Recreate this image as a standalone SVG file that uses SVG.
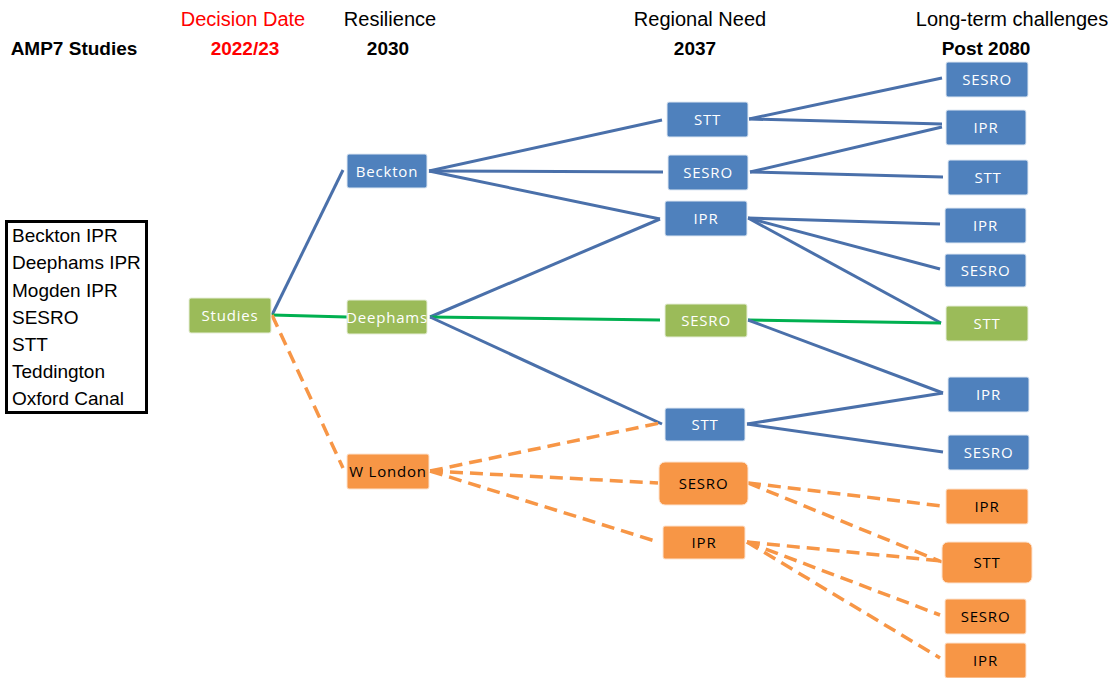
<svg xmlns="http://www.w3.org/2000/svg" width="1116" height="678" viewBox="0 0 1116 678">
<style>
.hd{font-family:"Liberation Sans",Arial,sans-serif;font-size:20px;fill:#000;text-anchor:middle}
.hb{font-family:"Liberation Sans",Arial,sans-serif;font-size:19px;font-weight:bold;fill:#000;text-anchor:middle}
.red{fill:#ff0000}
.lg{font-family:"Liberation Sans",Arial,sans-serif;font-size:19px;fill:#000}
.nt{font-family:"Open Sans","Liberation Sans",sans-serif;font-size:15px;letter-spacing:0.8px;text-anchor:middle;fill:#fff}
.nt.dk{fill:#000}
.b{fill:#4f81bd;stroke:#dfe8f3;stroke-width:1}
.g{fill:#9bbb59;stroke:#e6eed8;stroke-width:1}
.o{fill:#f79646;stroke:#fde3cf;stroke-width:1}
.lb{stroke:#4a70aa;stroke-width:3;fill:none;stroke-linecap:butt}
.lgn{stroke:#00b050;stroke-width:3;fill:none}
.lo{stroke:#f79646;stroke-width:3.5;fill:none;stroke-dasharray:13 7}
</style>

<g id="headers">
<text class="hd red" x="243" y="26">Decision Date</text>
<text class="hd" x="390" y="26">Resilience</text>
<text class="hd" x="700" y="26">Regional Need</text>
<text class="hd" x="1012" y="26">Long-term challenges</text>
<text class="hb" x="74" y="55">AMP7 Studies</text>
<text class="hb red" x="245" y="55">2022/23</text>
<text class="hb" x="388" y="55">2030</text>
<text class="hb" x="695" y="55">2037</text>
<text class="hb" x="986" y="55">Post 2080</text>
</g>

<g id="legend">
<rect x="6.5" y="221.5" width="140" height="191" fill="#fff" stroke="#000" stroke-width="3"/>
<text class="lg" x="12" y="242">Beckton IPR</text>
<text class="lg" x="12" y="269">Deephams IPR</text>
<text class="lg" x="12" y="297">Mogden IPR</text>
<text class="lg" x="12" y="324">SESRO</text>
<text class="lg" x="12" y="351">STT</text>
<text class="lg" x="12" y="378">Teddington</text>
<text class="lg" x="12" y="405">Oxford Canal</text>
</g>

<g id="connectors">
<line class="lb" x1="272" y1="315" x2="343" y2="170"/>
<line class="lgn" x1="272" y1="315" x2="347" y2="317"/>
<line class="lo" x1="272" y1="315" x2="343" y2="468"/>
<line class="lb" x1="429" y1="171" x2="662" y2="120"/>
<line class="lb" x1="429" y1="171" x2="663" y2="172"/>
<line class="lb" x1="429" y1="171" x2="660" y2="219"/>
<line class="lb" x1="430" y1="317" x2="660" y2="219"/>
<line class="lgn" x1="430" y1="317" x2="660" y2="320"/>
<line class="lb" x1="430" y1="317" x2="662" y2="424"/>
<line class="lb" x1="749" y1="119" x2="942" y2="78"/>
<line class="lb" x1="749" y1="119" x2="942" y2="124"/>
<line class="lb" x1="750" y1="172" x2="942" y2="127"/>
<line class="lb" x1="750" y1="172" x2="943" y2="177"/>
<line class="lb" x1="748" y1="218" x2="940" y2="224"/>
<line class="lb" x1="748" y1="218" x2="940" y2="269"/>
<line class="lb" x1="748" y1="218" x2="941" y2="323"/>
<line class="lgn" x1="748" y1="320" x2="941" y2="323"/>
<line class="lb" x1="748" y1="320" x2="943" y2="393"/>
<line class="lb" x1="747" y1="424" x2="943" y2="393"/>
<line class="lb" x1="747" y1="424" x2="943" y2="452"/>
<line class="lo" x1="430" y1="471" x2="660" y2="423"/>
<line class="lo" x1="430" y1="471" x2="658" y2="483"/>
<line class="lo" x1="430" y1="471" x2="655" y2="541"/>
<line class="lo" x1="748" y1="483" x2="942" y2="506"/>
<line class="lo" x1="748" y1="483" x2="942" y2="562"/>
<line class="lo" x1="747" y1="542" x2="942" y2="561"/>
<line class="lo" x1="747" y1="542" x2="940" y2="615"/>
<line class="lo" x1="747" y1="542" x2="940" y2="658"/>
</g>

<g id="studies"><rect class="g" x="189" y="298" width="82" height="35" rx="2"/><text class="nt" x="230" y="321">Studies</text></g>
<g id="beckton"><rect class="b" x="347" y="154" width="80" height="34" rx="2"/><text class="nt" x="387" y="176.5">Beckton</text></g>
<g id="deephams"><rect class="g" x="347" y="300" width="80" height="34" rx="2"/><text class="nt" x="387" y="322.5" letter-spacing="0.6">Deephams</text></g>
<g id="wlondon"><rect class="o" x="347" y="454" width="82" height="35" rx="2"/><text class="nt dk" x="388" y="477">W London</text></g>

<g id="rn-stt1"><rect class="b" x="667" y="102" width="81" height="35" rx="2"/><text class="nt" x="707.5" y="125">STT</text></g>
<g id="rn-sesro1"><rect class="b" x="668" y="155" width="80" height="35" rx="2"/><text class="nt" x="708" y="178">SESRO</text></g>
<g id="rn-ipr1"><rect class="b" x="665" y="201" width="82" height="35" rx="2"/><text class="nt" x="706" y="224">IPR</text></g>
<g id="rn-sesro2"><rect class="g" x="665" y="304" width="82" height="33" rx="2"/><text class="nt" x="706" y="326">SESRO</text></g>
<g id="rn-stt2"><rect class="b" x="665" y="408" width="80" height="33" rx="2"/><text class="nt" x="705" y="430">STT</text></g>
<g id="rn-sesro3"><rect class="o" x="659" y="462" width="89" height="43" rx="6"/><text class="nt dk" x="703.5" y="489">SESRO</text></g>
<g id="rn-ipr3"><rect class="o" x="663" y="526" width="82" height="33" rx="2"/><text class="nt dk" x="704" y="548">IPR</text></g>

<g id="lt-sesro1"><rect class="b" x="946" y="62" width="82" height="35" rx="2"/><text class="nt" x="987" y="85">SESRO</text></g>
<g id="lt-ipr1"><rect class="b" x="946" y="110" width="80" height="35" rx="2"/><text class="nt" x="986" y="133">IPR</text></g>
<g id="lt-stt1"><rect class="b" x="948" y="160" width="80" height="35" rx="2"/><text class="nt" x="988" y="183">STT</text></g>
<g id="lt-ipr2"><rect class="b" x="945" y="208" width="81" height="35" rx="2"/><text class="nt" x="985.5" y="231">IPR</text></g>
<g id="lt-sesro2"><rect class="b" x="945" y="254" width="81" height="33" rx="2"/><text class="nt" x="985.5" y="276">SESRO</text></g>
<g id="lt-stt2"><rect class="g" x="946" y="306" width="82" height="35" rx="2"/><text class="nt" x="987" y="329">STT</text></g>
<g id="lt-ipr3"><rect class="b" x="948" y="377" width="81" height="35" rx="2"/><text class="nt" x="988.5" y="400">IPR</text></g>
<g id="lt-sesro3"><rect class="b" x="948" y="435" width="81" height="35" rx="2"/><text class="nt" x="988.5" y="458">SESRO</text></g>
<g id="lt-ipr4"><rect class="o" x="946" y="489" width="82" height="35" rx="2"/><text class="nt dk" x="987" y="512">IPR</text></g>
<g id="lt-stt3"><rect class="o" x="942" y="542" width="90" height="41" rx="6"/><text class="nt dk" x="987" y="568">STT</text></g>
<g id="lt-sesro4"><rect class="o" x="945" y="599" width="81" height="35" rx="2"/><text class="nt dk" x="985.5" y="622">SESRO</text></g>
<g id="lt-ipr5"><rect class="o" x="945" y="643" width="81" height="35" rx="2"/><text class="nt dk" x="985.5" y="666">IPR</text></g>
</svg>
